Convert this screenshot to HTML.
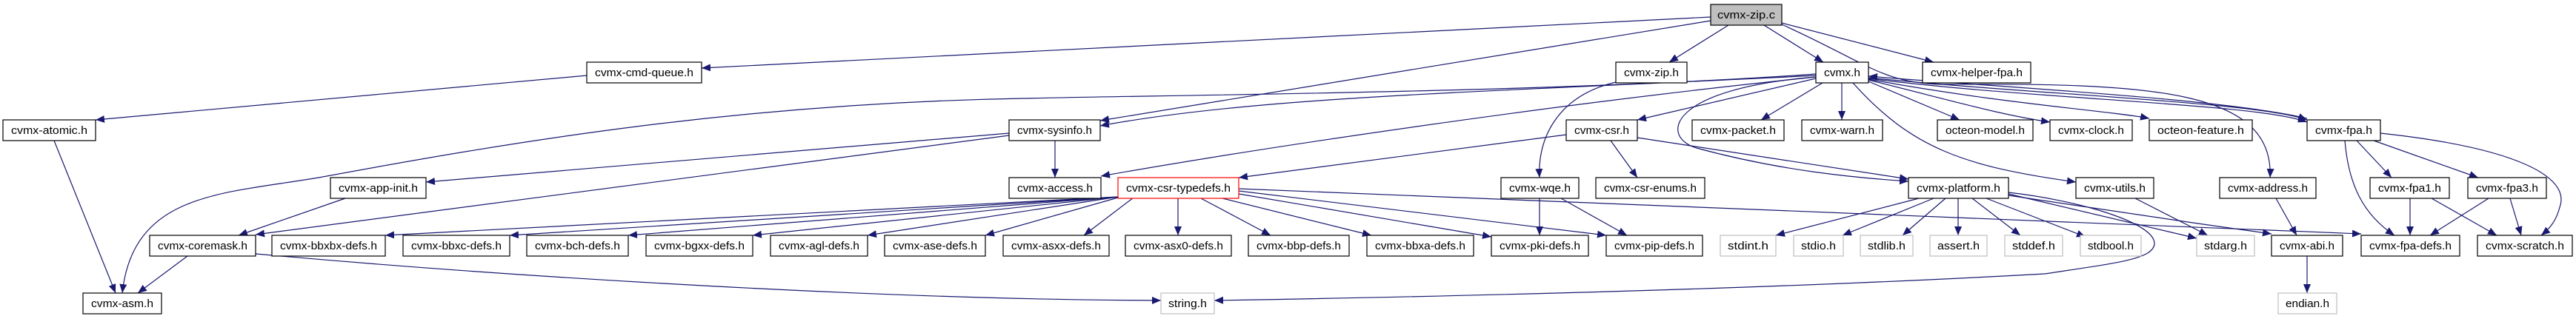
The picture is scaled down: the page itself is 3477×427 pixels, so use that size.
<!DOCTYPE html>
<html><head><meta charset="utf-8"><style>
html,body{margin:0;padding:0;background:#fff;}
svg{display:block;}
.n rect{fill:#fff;stroke:#000;stroke-width:1.2;}
.g rect{fill:#fff;stroke:#bfbfbf;stroke-width:1.2;}
text{font-family:"Liberation Sans",sans-serif;font-size:15px;fill:#000;text-anchor:middle;}
path{fill:none;stroke:#191970;stroke-width:1.2;}
</style></head><body>
<svg width="3477" height="427" viewBox="0 0 3477 427" xmlns="http://www.w3.org/2000/svg">
<defs><marker id="a" markerUnits="userSpaceOnUse" markerWidth="14" markerHeight="12" refX="12" refY="5" orient="auto"><polygon points="0,0 12,5 0,10" fill="#191970"/></marker></defs>
<g marker-end="url(#a)">
<path d="M2309,23 L947,92"/>
<path d="M2309,28 L1485,163"/>
<path d="M2333,34 L2253,84"/>
<path d="M2381,34 L2461,84"/>
<path d="M2405,31 L2610,84"/>
<path d="M2405,33 C2520,85 2540,112 2620,114 C2900,112 3070,120 3064,240"/>
<path d="M792,102 L129,162"/>
<path d="M73,190 L156,396"/>
<path d="M2451,100 C2100,125 1600,128 1380,133 C1000,140 700,190 430,240 C300,262 180,260 165,396"/>
<path d="M2451,102 C2000,125 1700,130 1485,170"/>
<path d="M2451,104 C2100,140 1700,200 1486,238"/>
<path d="M2451,106 L2210,162"/>
<path d="M2460,112 L2377,162"/>
<path d="M2486,112 L2486,162"/>
<path d="M2522,110 L2645,162"/>
<path d="M2522,108 C2650,140 2700,155 2767,165"/>
<path d="M2522,107 C2700,140 2850,150 2901,160"/>
<path d="M2522,106 C2750,135 3050,140 3114,165"/>
<path d="M2522,105 C2750,128 3050,138 3114,162"/>
<path d="M3114,160 C3000,133 2700,118 2522,103"/>
<path d="M2451,104 C2250,120 2240,185 2290,200 C2400,230 2500,240 2576,245"/>
<path d="M2501,112 C2580,200 2650,225 2802,246"/>
<path d="M2210,186 L2576,242"/>
<path d="M2174,190 L2210,240"/>
<path d="M2114,182 L1672,240"/>
<path d="M2181,111 C2100,130 2075,190 2078,240"/>
<path d="M1424,190 L1424,240"/>
<path d="M1362,180 L575,246"/>
<path d="M1362,183 L345,317"/>
<path d="M466,268 L322,318"/>
<path d="M253,346 L186,396"/>
<path d="M345,343 C700,375 1200,405 1567,406"/>
<path d="M1509,266 L520,318"/>
<path d="M1509,266 L688,318"/>
<path d="M1509,266 L848,318"/>
<path d="M1509,266 L1016,318"/>
<path d="M1509,266 L1171,318"/>
<path d="M1509,267 L1330,318"/>
<path d="M1530,267 L1463,318"/>
<path d="M1590,268 L1590,318"/>
<path d="M1621,268 L1715,318"/>
<path d="M1650,268 L1851,318"/>
<path d="M1672,262 L2013,320"/>
<path d="M1672,258 L2168,318"/>
<path d="M1672,255 C2100,270 2600,295 3187,316"/>
<path d="M2078,268 L2078,318"/>
<path d="M2107,268 L2196,318"/>
<path d="M2590,268 L2397,318"/>
<path d="M2610,268 L2487,318"/>
<path d="M2626,268 L2568,318"/>
<path d="M2643,268 L2643,318"/>
<path d="M2662,268 L2727,318"/>
<path d="M2681,268 L2815,320"/>
<path d="M2711,262 L2965,322"/>
<path d="M2711,264 C2850,285 2950,300 3066,316"/>
<path d="M2711,260 C2800,270 2910,300 2908,330 C2905,350 2860,355 2760,370 C2400,390 2000,400 1639,406"/>
<path d="M2882,268 L2980,318"/>
<path d="M3072,268 L3100,318"/>
<path d="M3114,346 L3114,396"/>
<path d="M3165,190 C3170,250 3190,290 3232,318"/>
<path d="M3181,190 L3228,240"/>
<path d="M3204,190 L3345,240"/>
<path d="M3213,180 C3400,200 3470,240 3455,280 C3450,300 3440,310 3430,318"/>
<path d="M3253,268 L3253,318"/>
<path d="M3282,268 L3370,318"/>
<path d="M3359,268 L3280,318"/>
<path d="M3388,268 L3403,318"/>
</g>
<g class="n">
<rect x="2309" y="6" width="96" height="28" style="fill:#bfbfbf"/><text x="2357" y="25" textLength="78" lengthAdjust="spacingAndGlyphs">cvmx-zip.c</text>
<rect x="792" y="84" width="155" height="28"/><text x="869.5" y="103" textLength="133" lengthAdjust="spacingAndGlyphs">cvmx-cmd-queue.h</text>
<rect x="2181" y="84" width="96" height="28"/><text x="2229" y="103" textLength="74" lengthAdjust="spacingAndGlyphs">cvmx-zip.h</text>
<rect x="2451" y="84" width="71" height="28"/><text x="2486.5" y="103" textLength="49" lengthAdjust="spacingAndGlyphs">cvmx.h</text>
<rect x="2595" y="84" width="146" height="28"/><text x="2668" y="103" textLength="124" lengthAdjust="spacingAndGlyphs">cvmx-helper-fpa.h</text>
<rect x="4" y="162" width="125" height="28"/><text x="66.5" y="181" textLength="103" lengthAdjust="spacingAndGlyphs">cvmx-atomic.h</text>
<rect x="1362" y="162" width="123" height="28"/><text x="1423.5" y="181" textLength="101" lengthAdjust="spacingAndGlyphs">cvmx-sysinfo.h</text>
<rect x="2114" y="162" width="96" height="28"/><text x="2162" y="181" textLength="74" lengthAdjust="spacingAndGlyphs">cvmx-csr.h</text>
<rect x="2284" y="162" width="124" height="28"/><text x="2346" y="181" textLength="102" lengthAdjust="spacingAndGlyphs">cvmx-packet.h</text>
<rect x="2432" y="162" width="109" height="28"/><text x="2486.5" y="181" textLength="87" lengthAdjust="spacingAndGlyphs">cvmx-warn.h</text>
<rect x="2615" y="162" width="129" height="28"/><text x="2679.5" y="181" textLength="107" lengthAdjust="spacingAndGlyphs">octeon-model.h</text>
<rect x="2767" y="162" width="111" height="28"/><text x="2822.5" y="181" textLength="89" lengthAdjust="spacingAndGlyphs">cvmx-clock.h</text>
<rect x="2901" y="162" width="139" height="28"/><text x="2970.5" y="181" textLength="117" lengthAdjust="spacingAndGlyphs">octeon-feature.h</text>
<rect x="3114" y="162" width="99" height="28"/><text x="3163.5" y="181" textLength="77" lengthAdjust="spacingAndGlyphs">cvmx-fpa.h</text>
<rect x="446" y="240" width="129" height="28"/><text x="510.5" y="259" textLength="107" lengthAdjust="spacingAndGlyphs">cvmx-app-init.h</text>
<rect x="1362" y="240" width="124" height="28"/><text x="1424" y="259" textLength="102" lengthAdjust="spacingAndGlyphs">cvmx-access.h</text>
<rect x="1509" y="240" width="163" height="28" style="stroke:#ff0000"/><text x="1590.5" y="259" textLength="141" lengthAdjust="spacingAndGlyphs">cvmx-csr-typedefs.h</text>
<rect x="2026" y="240" width="105" height="28"/><text x="2078.5" y="259" textLength="83" lengthAdjust="spacingAndGlyphs">cvmx-wqe.h</text>
<rect x="2154" y="240" width="147" height="28"/><text x="2227.5" y="259" textLength="125" lengthAdjust="spacingAndGlyphs">cvmx-csr-enums.h</text>
<rect x="2576" y="240" width="135" height="28"/><text x="2643.5" y="259" textLength="113" lengthAdjust="spacingAndGlyphs">cvmx-platform.h</text>
<rect x="2802" y="240" width="105" height="28"/><text x="2854.5" y="259" textLength="83" lengthAdjust="spacingAndGlyphs">cvmx-utils.h</text>
<rect x="2996" y="240" width="130" height="28"/><text x="3061" y="259" textLength="108" lengthAdjust="spacingAndGlyphs">cvmx-address.h</text>
<rect x="3199" y="240" width="107" height="28"/><text x="3252.5" y="259" textLength="85" lengthAdjust="spacingAndGlyphs">cvmx-fpa1.h</text>
<rect x="3331" y="240" width="106" height="28"/><text x="3384" y="259" textLength="84" lengthAdjust="spacingAndGlyphs">cvmx-fpa3.h</text>
<rect x="202" y="318" width="143" height="28"/><text x="273.5" y="337" textLength="121" lengthAdjust="spacingAndGlyphs">cvmx-coremask.h</text>
<rect x="367" y="318" width="153" height="28"/><text x="443.5" y="337" textLength="131" lengthAdjust="spacingAndGlyphs">cvmx-bbxbx-defs.h</text>
<rect x="544" y="318" width="144" height="28"/><text x="616" y="337" textLength="122" lengthAdjust="spacingAndGlyphs">cvmx-bbxc-defs.h</text>
<rect x="711" y="318" width="137" height="28"/><text x="779.5" y="337" textLength="115" lengthAdjust="spacingAndGlyphs">cvmx-bch-defs.h</text>
<rect x="872" y="318" width="144" height="28"/><text x="944" y="337" textLength="122" lengthAdjust="spacingAndGlyphs">cvmx-bgxx-defs.h</text>
<rect x="1040" y="318" width="131" height="28"/><text x="1105.5" y="337" textLength="109" lengthAdjust="spacingAndGlyphs">cvmx-agl-defs.h</text>
<rect x="1194" y="318" width="136" height="28"/><text x="1262" y="337" textLength="114" lengthAdjust="spacingAndGlyphs">cvmx-ase-defs.h</text>
<rect x="1354" y="318" width="143" height="28"/><text x="1425.5" y="337" textLength="121" lengthAdjust="spacingAndGlyphs">cvmx-asxx-defs.h</text>
<rect x="1519" y="318" width="143" height="28"/><text x="1590.5" y="337" textLength="121" lengthAdjust="spacingAndGlyphs">cvmx-asx0-defs.h</text>
<rect x="1685" y="318" width="136" height="28"/><text x="1753" y="337" textLength="114" lengthAdjust="spacingAndGlyphs">cvmx-bbp-defs.h</text>
<rect x="1845" y="318" width="144" height="28"/><text x="1917" y="337" textLength="122" lengthAdjust="spacingAndGlyphs">cvmx-bbxa-defs.h</text>
<rect x="2013" y="318" width="131" height="28"/><text x="2078.5" y="337" textLength="109" lengthAdjust="spacingAndGlyphs">cvmx-pki-defs.h</text>
<rect x="2168" y="318" width="130" height="28"/><text x="2233" y="337" textLength="108" lengthAdjust="spacingAndGlyphs">cvmx-pip-defs.h</text>
<rect x="3066" y="318" width="96" height="28"/><text x="3114" y="337" textLength="74" lengthAdjust="spacingAndGlyphs">cvmx-abi.h</text>
<rect x="3187" y="318" width="133" height="28"/><text x="3253.5" y="337" textLength="111" lengthAdjust="spacingAndGlyphs">cvmx-fpa-defs.h</text>
<rect x="3344" y="318" width="128" height="28"/><text x="3408" y="337" textLength="106" lengthAdjust="spacingAndGlyphs">cvmx-scratch.h</text>
<rect x="112" y="396" width="106" height="28"/><text x="165" y="415" textLength="84" lengthAdjust="spacingAndGlyphs">cvmx-asm.h</text>
</g>
<g class="g">
<rect x="2322" y="318" width="75" height="28"/><text x="2359.5" y="337" textLength="55" lengthAdjust="spacingAndGlyphs">stdint.h</text>
<rect x="2421" y="318" width="67" height="28"/><text x="2454.5" y="337" textLength="47" lengthAdjust="spacingAndGlyphs">stdio.h</text>
<rect x="2511" y="318" width="71" height="28"/><text x="2546.5" y="337" textLength="51" lengthAdjust="spacingAndGlyphs">stdlib.h</text>
<rect x="2605" y="318" width="77" height="28"/><text x="2643.5" y="337" textLength="57" lengthAdjust="spacingAndGlyphs">assert.h</text>
<rect x="2706" y="318" width="78" height="28"/><text x="2745" y="337" textLength="58" lengthAdjust="spacingAndGlyphs">stddef.h</text>
<rect x="2808" y="318" width="82" height="28"/><text x="2849" y="337" textLength="62" lengthAdjust="spacingAndGlyphs">stdbool.h</text>
<rect x="2965" y="318" width="78" height="28"/><text x="3004" y="337" textLength="58" lengthAdjust="spacingAndGlyphs">stdarg.h</text>
<rect x="1567" y="396" width="72" height="28"/><text x="1603" y="415" textLength="52" lengthAdjust="spacingAndGlyphs">string.h</text>
<rect x="3075" y="396" width="79" height="28"/><text x="3114.5" y="415" textLength="59" lengthAdjust="spacingAndGlyphs">endian.h</text>
</g>
</svg>
</body></html>
